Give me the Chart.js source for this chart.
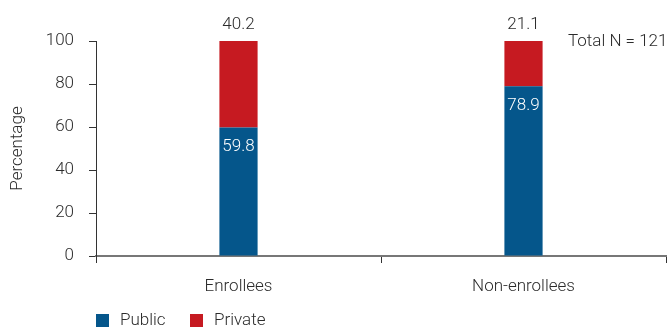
<!DOCTYPE html>
<html>
<head>
<meta charset="utf-8">
<script src="https://cdn.jsdelivr.net/npm/chart.js@4.4.1/dist/chart.umd.min.js"></script>
<style>
  html, body { margin: 0; padding: 0; background: #fff; }
  #wrap { width: 670px; height: 329px; }
</style>
</head>
<body>
<div id="wrap"><canvas id="schoolChart" width="670" height="329"></canvas></div>
<script>
// Share of public vs private schools, enrollees and non-enrollees
const groups = ['Enrollees', 'Non-enrollees'];
const publicShare = [59.8, 78.9];
const privateShare = [40.2, 21.1];
const yTicks = [0, 20, 40, 60, 80, 100];
const totalNote = 'Total N = 121';

const blue = '#05568b';
const red = '#c61a21';
const ink = '#2b2b2b';
const fontFamily = 'Roboto, "Liberation Sans", Arial, sans-serif';
const labelFont = { family: fontFamily, size: 17, weight: '300' };

// Value labels: private on top of the stack, public inside the blue part
const barLabels = {
    id: 'barLabels',
    afterDatasetsDraw(chart) {
        const ctx = chart.ctx;
        ctx.save();
        ctx.font = '300 17px ' + fontFamily;
        ctx.textAlign = 'center';
        ctx.textBaseline = 'middle';

        chart.getDatasetMeta(0).data.forEach((bar, i) => {
            ctx.fillStyle = '#ffffff';
            ctx.fillText(publicShare[i].toFixed(1), bar.x, bar.y + 19);
        });
        chart.getDatasetMeta(1).data.forEach((bar, i) => {
            ctx.fillStyle = ink;
            ctx.fillText(privateShare[i].toFixed(1), bar.x, bar.y - 16);
        });

        // sample size note, top right
        ctx.textAlign = 'left';
        ctx.fillStyle = ink;
        ctx.fillText(totalNote, 568, 42);
        ctx.restore();
    }
};

// Simple legend row under the axis, lined up with the y axis
const bottomLegend = {
    id: 'bottomLegend',
    afterDraw(chart) {
        const ctx = chart.ctx;
        ctx.save();
        ctx.font = '300 17px ' + fontFamily;
        ctx.textBaseline = 'middle';
        let x = chart.chartArea.left;
        const y = 320.5;
        chart.data.datasets.forEach(ds => {
            ctx.fillStyle = ds.backgroundColor;
            ctx.fillRect(x, y - 6.5, 13, 13);
            ctx.fillStyle = ink;
            ctx.fillText(ds.label, x + 24, y);
            x += 94;
        });
        ctx.restore();
    }
};

const ctx = document.getElementById('schoolChart').getContext('2d');
const schoolChart = new Chart(ctx, {
    type: 'bar',
    data: {
        labels: groups,
        datasets: [
            {
                label: 'Public',
                data: publicShare,
                backgroundColor: blue,
                borderWidth: 0
            },
            {
                label: 'Private',
                data: privateShare,
                backgroundColor: red,
                borderWidth: 0
            }
        ]
    },
    options: {
        responsive: false,
        animation: false,
        devicePixelRatio: 1,
        barPercentage: 1,
        categoryPercentage: 0.134,
        layout: {
            padding: { top: 41, right: 4, bottom: 28, left: 0 }
        },
        plugins: {
            tooltip: { enabled: false },
            legend: { display: false }
        },
        scales: {
            x: {
                stacked: true,
                grid: {
                    offset: true,
                    drawOnChartArea: false,
                    drawTicks: true,
                    tickLength: 7,
                    color: '#333'
                },
                border: { color: '#777', width: 2 },
                ticks: {
                    color: ink,
                    padding: 14,
                    font: labelFont
                },
                afterFit(scale) {
                    scale.height = 45;
                }
            },
            y: {
                stacked: true,
                min: 0,
                max: 100,
                afterBuildTicks(scale) {
                    scale.ticks = yTicks.map(v => ({ value: v }));
                },
                grid: {
                    drawOnChartArea: false,
                    drawTicks: true,
                    tickLength: 7,
                    color: '#333'
                },
                border: { color: '#333', width: 1 },
                ticks: {
                    color: ink,
                    padding: 15,
                    font: labelFont
                },
                title: {
                    display: true,
                    text: 'Percentage',
                    color: ink,
                    padding: { top: 8, bottom: 0 },
                    font: labelFont
                },
                afterFit(scale) {
                    scale.width = 96;
                }
            }
        }
    },
    plugins: [barLabels, bottomLegend]
});
</script>
</body>
</html>
